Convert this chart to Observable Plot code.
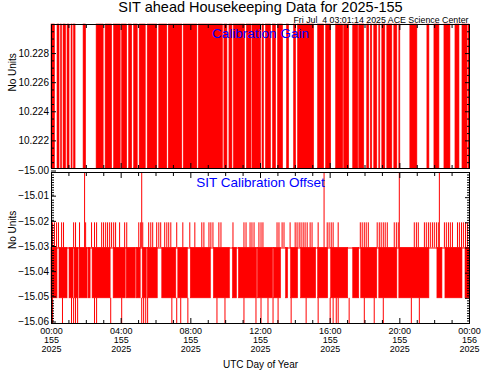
<!DOCTYPE html>
<html><head><meta charset="utf-8">
<script src="https://cdn.jsdelivr.net/npm/d3@7"></script>
<script src="https://cdn.jsdelivr.net/npm/@observablehq/plot@0.6"></script>
<style>
body{margin:0;background:#fff;}
#wrap{position:relative;width:481px;height:370px;overflow:hidden;background:#fff;}
.panel{position:absolute;left:0;}
</style></head><body>
<div id="wrap"><div class="panel" id="p1" style="top:0"></div><div class="panel" id="p2" style="top:168px"></div></div>
<script>
// ---- data (hours of day 155, 2025) ----
const titleText = "SIT ahead Housekeeping Data for 2025-155";
const stampText = "Fri Jul \u00a04 03:01:14 2025 ACE Science Center";
const gainLabel = "Calibration Gain";
const offsetLabel = "SIT Calibration Offset";
const yLabel = "No Units";
const xLabel = "UTC Day of Year";

const xMajor = [0, 4, 8, 12, 16, 20, 24];
const xTickLabels = ["00:00\n155\n2025", "04:00\n155\n2025", "08:00\n155\n2025", "12:00\n155\n2025",
                     "16:00\n155\n2025", "20:00\n155\n2025", "00:00\n156\n2025"];
const xMinor = [1,2,3,5,6,7,9,10,11,13,14,15,17,18,19,21,22,23];

// gain toggles between two levels; intervals where it toggles rapidly
const gainLevels = [10.2201, 10.2300];
const gainTicks = [10.222, 10.224, 10.226, 10.228];
const gainBurstStart = [0, 0.345, 0.547, 0.691, 0.921, 1.151, 1.295, 1.842, 2.590, 3.108, 3.597, 4.058, 4.460, 4.748, 5.065, 5.525, 6.187, 6.734, 7.597, 8.460, 9.928, 10.216, 10.475, 11.223, 11.540, 12.115, 12.317, 12.719, 13.007, 13.525, 13.928, 14.158, 15.309, 15.770, 16.345, 16.806, 17.324, 17.669, 18.129, 18.331, 18.532, 18.820, 18.993, 19.281, 19.683, 19.971, 20.604, 21.583, 21.986, 22.561, 23.194, 23.597, 23.942];
const gainBurstEnd   = [0.201, 0.460, 0.604, 0.835, 1.036, 1.209, 1.381, 1.986, 2.993, 3.482, 3.971, 4.345, 4.633, 4.950, 5.410, 6.072, 6.647, 7.511, 8.374, 9.842, 10.101, 10.388, 11.108, 11.482, 12.029, 12.201, 12.604, 12.892, 13.295, 13.640, 14.043, 15.079, 15.655, 16.058, 16.748, 17.094, 17.612, 17.957, 18.245, 18.417, 18.705, 18.878, 19.165, 19.568, 19.856, 20.029, 21.007, 21.698, 22.273, 22.906, 23.424, 23.885, 24.0];

// offset: baseline -15.03, toggling band to -15.05, spikes to -15.02 / -15.00 / -15.06
const offsetDomain = [-15.06, -15.00];
const offsetTicks = [-15.06, -15.05, -15.04, -15.03, -15.02, -15.01, -15.00];
const offsetBase = -15.03, offsetLow = -15.05, offsetUp = -15.02, offsetTop = -15.00, offsetBottom = -15.06;
const offsetBandStart = [0, 0.460, 1.036, 1.324, 1.612, 2.129, 2.360, 3.568, 4.317, 4.892, 5.237, 5.525, 6.360, 7.281, 8.000, 9.324, 10.417, 10.763, 11.856, 12.777, 13.468, 13.755, 14.331, 15.309, 16.058, 17.324, 17.784, 18.820, 19.971, 22.158, 22.618, 23.770];
const offsetBandEnd   = [0.345, 0.921, 1.266, 1.554, 2.072, 2.245, 3.396, 4.259, 4.835, 5.122, 5.468, 6.101, 7.165, 7.827, 9.151, 10.245, 10.647, 11.799, 12.719, 13.180, 13.583, 14.158, 15.194, 15.885, 17.036, 17.669, 18.705, 19.856, 21.698, 22.446, 23.597, 24.0];
const offsetUpTimes = [0.06, 0.17, 0.29, 0.40, 0.58, 0.69, 1.27, 1.38, 1.61, 1.96, 2.30, 2.47, 2.59, 2.88, 2.99, 3.11, 3.22, 3.34, 3.45, 3.57, 3.68, 3.91, 4.20, 4.32, 5.01, 5.12, 5.24, 5.58, 5.70, 5.81, 6.04, 6.16, 6.27, 6.50, 6.62, 6.73, 6.85, 7.19, 7.54, 7.94, 8.23, 8.63, 8.75, 9.04, 9.15, 9.27, 9.61, 9.73, 10.42, 11.05, 11.17, 11.40, 11.51, 11.63, 11.91, 12.03, 12.14, 12.95, 13.06, 13.24, 13.35, 13.70, 13.99, 14.10, 14.22, 14.33, 14.45, 14.56, 14.68, 14.85, 14.96, 15.31, 15.83, 15.94, 16.06, 16.17, 16.46, 17.73, 17.84, 17.96, 18.07, 18.19, 18.70, 18.82, 18.93, 19.05, 19.16, 19.28, 19.68, 19.80, 19.91, 20.83, 20.95, 21.06, 21.41, 21.52, 21.64, 21.75, 21.87, 21.98, 22.10, 22.21, 22.56, 22.67, 22.79, 22.90, 23.02, 23.31, 23.42, 23.54, 23.65, 23.77, 23.88];
const offsetTopTimes = [1.90, 5.18, 15.65, 19.97, 22.27];
const offsetDownTimes = [0.06, 0.63, 1.15, 1.27, 1.38, 1.50, 2.47, 2.59, 3.40, 4.03, 5.18, 5.29, 5.41, 5.52, 6.91, 7.19, 7.42, 7.83, 9.50, 9.96, 11.05, 11.74, 12.03, 12.43, 12.72, 13.01, 13.76, 14.62, 15.31, 16.00, 16.17, 16.35, 16.46, 17.09, 17.96, 18.53, 19.05, 20.66, 21.12];

// ---- drawing ----
const red = "#ff0000", blue = "#0000ff";
const font = "'Liberation Sans', Arial, Helvetica, sans-serif";
const style = {fontFamily: font, fontSize: "10px", background: "transparent", color: "black", overflow: "visible"};
const xFmt = d => xTickLabels[xMajor.indexOf(d)];

function xTicks(withLabels) {
  return [
    Plot.axisX(xMajor, {anchor: "top", tickSize: -5, fill: "none", label: null}),
    Plot.axisX(xMinor, {anchor: "top", tickSize: -3, fill: "none", label: null}),
    withLabels
      ? Plot.axisX(xMajor, {anchor: "bottom", tickSize: -5, tickPadding: 9.5, tickFormat: xFmt, fontSize: 9, lineHeight: 1, label: null})
      : Plot.axisX(xMajor, {anchor: "bottom", tickSize: -5, fill: "none", label: null}),
    Plot.axisX(xMinor, {anchor: "bottom", tickSize: -3, fill: "none", label: null})
  ];
}

const gainMinor = d3.range(10.2205, 10.2299, 0.0005).filter(v => !gainTicks.some(t => Math.abs(t - v) < 1e-7));
const p1 = Plot.plot({
  width: 481, height: 172,
  marginTop: 24, marginBottom: 4, marginLeft: 51, marginRight: 12,
  x: {domain: [0, 24]},
  y: {domain: gainLevels},
  style,
  marks: [
    Plot.rect(d3.range(gainBurstStart.length), {
      x1: i => gainBurstStart[i], x2: i => gainBurstEnd[i],
      y1: gainLevels[0], y2: gainLevels[1], fill: red, stroke: red, strokeWidth: 0.6
    }),
    Plot.frame({stroke: "black"}),
    Plot.axisY(gainTicks, {anchor: "left", tickSize: -5, tickPadding: 7.5, tickFormat: d => d.toFixed(3), fontSize: 10, label: null}),
    Plot.axisY(gainMinor, {anchor: "left", tickSize: -3, fill: "none", label: null}),
    Plot.axisY(gainTicks, {anchor: "right", tickSize: -5, fill: "none", label: null}),
    Plot.axisY(gainMinor, {anchor: "right", tickSize: -3, fill: "none", label: null}),
    ...xTicks(false),
    Plot.text([titleText], {frameAnchor: "top", dy: -12.5, lineAnchor: "bottom", fontSize: 14.5, fill: "black"}),
    Plot.text([stampText], {frameAnchor: "top-right", textAnchor: "end", dy: -2, dx: -1, lineAnchor: "bottom", fontSize: 8.8, fill: "black"}),
    Plot.text([gainLabel], {frameAnchor: "top", dy: 13.5, lineAnchor: "bottom", fontSize: 13.5, fill: blue}),
    Plot.text([yLabel], {frameAnchor: "left", dx: -39, dy: -5, rotate: -90, fontSize: 10, fill: "black"})
  ]
});
document.getElementById("p1").appendChild(p1);

const offsetMinor = d3.range(-15.059, -15.0005, 0.001).filter(v => !offsetTicks.some(t => Math.abs(t - v) < 1e-7));
const p2 = Plot.plot({
  width: 481, height: 202,
  marginTop: 4, marginBottom: 47, marginLeft: 51, marginRight: 12,
  x: {domain: [0, 24]},
  y: {domain: offsetDomain},
  style,
  marks: [
    Plot.ruleY([offsetBase], {stroke: red}),
    Plot.rect(d3.range(offsetBandStart.length), {
      x1: i => offsetBandStart[i], x2: i => offsetBandEnd[i],
      y1: offsetBase, y2: offsetLow, fill: red, stroke: red, strokeWidth: 0.6
    }),
    Plot.ruleX(offsetUpTimes, {y1: offsetBase, y2: offsetUp, stroke: red}),
    Plot.ruleX(offsetTopTimes, {y1: offsetBase, y2: offsetTop, stroke: red}),
    Plot.ruleX(offsetDownTimes, {y1: offsetLow, y2: offsetBottom, stroke: red}),
    Plot.frame({stroke: "black"}),
    Plot.axisY(offsetTicks, {anchor: "left", tickSize: -5, tickPadding: 7.5, dy: -1.5, tickFormat: d => (d < 0 ? "\u2212" : "") + Math.abs(d).toFixed(2), fontSize: 10, label: null}),
    Plot.axisY(offsetMinor, {anchor: "left", tickSize: -3, fill: "none", label: null}),
    Plot.axisY(offsetTicks, {anchor: "right", tickSize: -5, fill: "none", label: null}),
    Plot.axisY(offsetMinor, {anchor: "right", tickSize: -3, fill: "none", label: null}),
    ...xTicks(true),
    Plot.text([offsetLabel], {frameAnchor: "top", dy: 14.5, lineAnchor: "bottom", fontSize: 13.5, fill: blue}),
    Plot.text([yLabel], {frameAnchor: "left", dx: -39, dy: 1, rotate: -90, fontSize: 10, fill: "black"}),
    Plot.text([xLabel], {frameAnchor: "bottom", dy: 44.5, lineAnchor: "bottom", fontSize: 10, fill: "black"})
  ]
});
document.getElementById("p2").appendChild(p2);
</script>
</body></html>
